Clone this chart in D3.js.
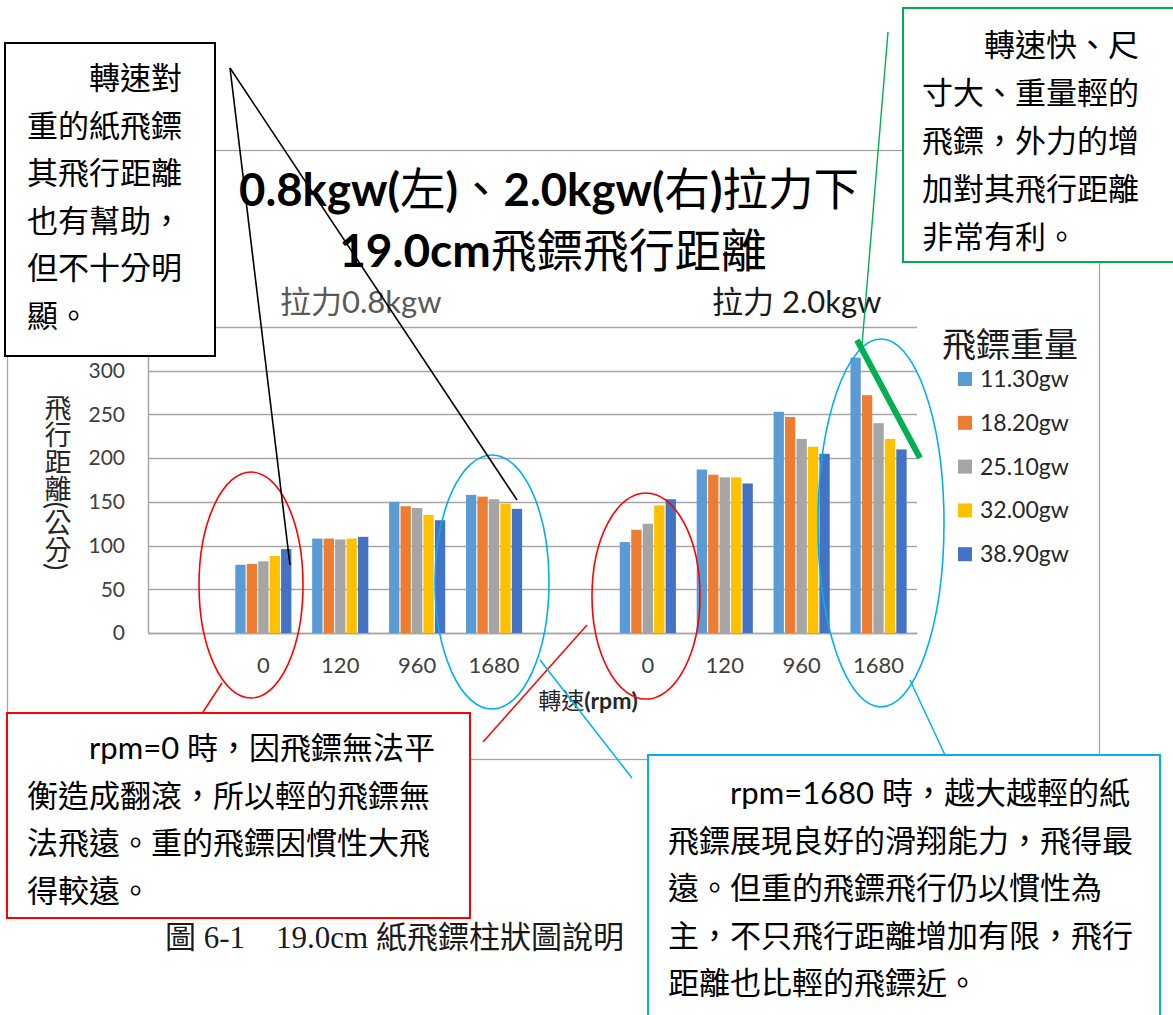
<!DOCTYPE html>
<html><head><meta charset="utf-8">
<script src="https://cdn.jsdelivr.net/npm/d3@7"></script>
<style>
body{margin:0;background:#fff}
svg{display:block}
</style>
</head><body>
<svg id="c" width="1173" height="1015"></svg>
<script>
// ---- data ----
const rpmLabels = ["0", "120", "960", "1680"];
const pullGroups = ["0.8kgw", "2.0kgw"];
const weightSeries = ["11.30gw", "18.20gw", "25.10gw", "32.00gw", "38.90gw"];
const seriesColors = ["#5B9BD5", "#ED7D31", "#A5A5A5", "#FFC000", "#4472C4"];
// flight distance (cm) for each weight, across rpmLabels
const dist08 = [
  [78, 108, 150, 158],
  [79, 108, 145, 156],
  [82, 107, 143, 153],
  [88, 108, 135, 148],
  [96, 110, 129, 142]
];
const dist20 = [
  [104, 187, 253, 315],
  [118, 181, 247, 272],
  [125, 178, 222, 240],
  [146, 178, 213, 222],
  [153, 171, 205, 210]
];
const yTicks = [0, 50, 100, 150, 200, 250, 300, 350];

// ---- fonts ----
const SANS = "Lato, 'Noto Sans CJK TC', sans-serif";
const SERIF = "'Liberation Serif', 'Noto Sans CJK TC', serif";

const svg = d3.select("#c");

// slot keys: one empty slot before each pull group
const slots = [];
pullGroups.forEach(p => {
  slots.push("gap|" + p);
  rpmLabels.forEach(r => slots.push(p + "|" + r));
});
const byPull = { "0.8kgw": dist08, "2.0kgw": dist20 };
const barData = [];
pullGroups.forEach(p => {
  byPull[p].forEach((row, si) => {
    row.forEach((v, ri) => barData.push({ slot: p + "|" + rpmLabels[ri], series: weightSeries[si], si, value: v }));
  });
});

const plot = { left: 148, right: 917, top: 327, bottom: 633 };
const x = d3.scaleBand().domain(slots).range([plot.left, plot.right]).paddingInner(0.27).paddingOuter(0.135);
const xs = d3.scaleBand().domain(weightSeries).range([0, x.bandwidth()]).paddingInner(0.1).paddingOuter(0);
const y = d3.scaleLinear().domain([0, 350]).range([plot.bottom, plot.top]);

// chart frame
svg.append("rect").attr("x", 7.5).attr("y", 150.5).attr("width", 1092).attr("height", 609)
  .attr("fill", "#fff").attr("stroke", "#A6A6A6").attr("stroke-width", 1.3);

// titles: Latin runs bold, CJK runs regular
function runs(sel, parts) {
  parts.forEach(([s, b]) => sel.append("tspan").attr("font-weight", b ? 700 : 400).text(s));
}
const t1 = svg.append("text").attr("x", 549).attr("y", 206).attr("text-anchor", "middle")
  .attr("font-family", SANS).attr("font-size", 45.5).attr("fill", "#000");
runs(t1, [["0.8kgw(", 1], ["左", 0], [")", 1], ["、", 0], ["2.0kgw(", 1], ["右", 0], [")", 1], ["拉力下", 0]]);
const t2 = svg.append("text").attr("x", 553).attr("y", 267).attr("text-anchor", "middle")
  .attr("font-family", SANS).attr("font-size", 46).attr("fill", "#000");
runs(t2, [["19.0cm", 1], ["飛鏢飛行距離", 0]]);

svg.append("text").attr("x", 280).attr("y", 313).attr("font-family", SANS).attr("font-size", 31)
  .attr("fill", "#595959").text("拉力0.8kgw");
svg.append("text").attr("x", 712).attr("y", 313).attr("font-family", SANS).attr("font-size", 31)
  .attr("fill", "#1a1a1a").text("拉力 2.0kgw");

// gridlines
svg.append("g").selectAll("line").data(yTicks).join("line")
  .attr("x1", plot.left).attr("x2", plot.right)
  .attr("y1", d => Math.round(y(d)) + 0.5).attr("y2", d => Math.round(y(d)) + 0.5)
  .attr("stroke", "#A6A6A6").attr("stroke-width", 1.5);

// y axis
const yAxis = svg.append("g").attr("transform", `translate(${plot.left},0)`)
  .call(d3.axisLeft(y).tickValues(yTicks).tickSize(0).tickPadding(23));
yAxis.select(".domain").attr("stroke", "#A6A6A6").attr("stroke-width", 1.5);
yAxis.selectAll("text").attr("font-family", SANS).attr("font-size", 21).attr("fill", "#404040");

// x axis
const xAxis = svg.append("g").attr("transform", `translate(0,${plot.bottom})`)
  .call(d3.axisBottom(x).tickSize(0).tickPadding(24).tickFormat(d => d.startsWith("gap") ? "" : d.split("|")[1]));
xAxis.select(".domain").attr("stroke", "#A6A6A6").attr("stroke-width", 1.5);
xAxis.selectAll("text").attr("font-family", SANS).attr("font-size", 22).attr("fill", "#404040");

// bars
svg.append("g").selectAll("rect").data(barData).join("rect")
  .attr("x", d => x(d.slot) + xs(d.series))
  .attr("width", xs.bandwidth())
  .attr("y", d => y(d.value))
  .attr("height", d => y(0) - y(d.value))
  .attr("fill", d => seriesColors[d.si]);

// axis titles
svg.append("text").attr("x", 57).attr("y", 482).attr("text-anchor", "middle")
  .attr("font-family", SANS).attr("font-size", 27).attr("fill", "#262626")
  .style("writing-mode", "vertical-rl").text("飛行距離(公分)");
const xt = svg.append("text").attr("x", 588).attr("y", 709).attr("text-anchor", "middle")
  .attr("font-family", SANS).attr("font-size", 23).attr("fill", "#262626");
runs(xt, [["轉速", 0], ["(rpm)", 1]]);

// legend
svg.append("text").attr("x", 942).attr("y", 357).attr("font-family", SANS).attr("font-size", 34)
  .attr("fill", "#1a1a1a").text("飛鏢重量");
const leg = svg.append("g").selectAll("g").data(weightSeries).join("g")
  .attr("transform", (d, i) => `translate(958,${372 + i * 43.8})`);
leg.append("rect").attr("width", 14).attr("height", 14).attr("fill", (d, i) => seriesColors[i]);
leg.append("text").attr("x", 22).attr("y", 15).attr("font-family", SANS).attr("font-size", 23)
  .attr("fill", "#262626").text(d => d);

// caption
svg.append("text").attr("x", 165).attr("y", 948).attr("font-family", SERIF).attr("font-size", 31)
  .attr("fill", "#1a1a1a").text("圖 6-1　19.0cm 紙飛鏢柱狀圖說明");

// ---- callout boxes ----
function callout(box, color, lines, tx, ty, lh, fs) {
  svg.append("rect").attr("x", box[0]).attr("y", box[1]).attr("width", box[2]).attr("height", box[3])
    .attr("fill", "#fff").attr("stroke", color).attr("stroke-width", 2);
  const t = svg.append("text").attr("font-family", SANS).attr("font-size", fs).attr("fill", "#000");
  lines.forEach((l, i) => t.append("tspan").attr("x", tx).attr("y", ty + i * lh).text(l));
}
callout([5, 43, 210, 313], "#000",
  ["　　轉速對", "重的紙飛鏢", "其飛行距離", "也有幫助，", "但不十分明", "顯。"], 27, 89, 47.6, 31);
callout([903, 8, 280, 254], "#00B050",
  ["　　轉速快、尺", "寸大、重量輕的", "飛鏢，外力的增", "加對其飛行距離", "非常有利。"], 922, 56, 48, 31);
callout([7, 713, 463, 205], "#FF0000",
  ["　　rpm=0 時，因飛鏢無法平", "衡造成翻滾，所以輕的飛鏢無", "法飛遠。重的飛鏢因慣性大飛", "得較遠。"], 27, 759, 47.5, 31);
callout([648, 755, 512, 270], "#00B0F0",
  ["　　rpm=1680 時，越大越輕的紙", "飛鏢展現良好的滑翔能力，飛得最", "遠。但重的飛鏢飛行仍以慣性為", "主，不只飛行距離增加有限，飛行", "距離也比輕的飛鏢近。"], 668, 804, 47.6, 31);

// ---- highlight ellipses ----
const rings = [
  { cx: 251, cy: 585, rx: 52, ry: 113, c: "#FF0000" },
  { cx: 492, cy: 582, rx: 57, ry: 127, c: "#00B0F0" },
  { cx: 646, cy: 596, rx: 54, ry: 103, c: "#FF0000" },
  { cx: 881, cy: 523, rx: 63, ry: 184, c: "#00B0F0" }
];
svg.append("g").selectAll("ellipse").data(rings).join("ellipse")
  .attr("cx", d => d.cx).attr("cy", d => d.cy).attr("rx", d => d.rx).attr("ry", d => d.ry)
  .attr("fill", "none").attr("stroke", d => d.c).attr("stroke-width", 1.6);

// ---- leader lines ----
const leaders = [
  { p: [[230, 68], [290, 565]], c: "#000", w: 1.6 },
  { p: [[230, 68], [517, 500]], c: "#000", w: 1.6 },
  { p: [[888, 32], [862, 345]], c: "#00B050", w: 1.4 },
  { p: [[857, 340], [920, 458]], c: "#00B050", w: 6 },
  { p: [[222, 683], [203, 712]], c: "#FF0000", w: 1.5 },
  { p: [[483, 742], [587, 625]], c: "#FF0000", w: 1.5 },
  { p: [[540, 660], [632, 778]], c: "#00B0F0", w: 1.5 },
  { p: [[910, 680], [945, 755]], c: "#00B0F0", w: 1.5 }
];
svg.append("g").selectAll("line").data(leaders).join("line")
  .attr("x1", d => d.p[0][0]).attr("y1", d => d.p[0][1])
  .attr("x2", d => d.p[1][0]).attr("y2", d => d.p[1][1])
  .attr("stroke", d => d.c).attr("stroke-width", d => d.w);
</script>
</body></html>
